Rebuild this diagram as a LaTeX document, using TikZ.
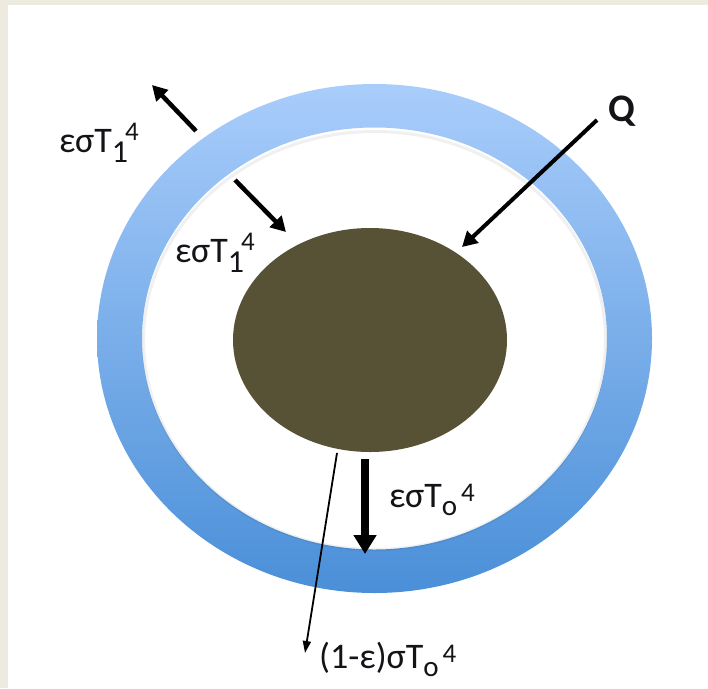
\documentclass[tikz,border=0pt]{standalone}
\usepackage{fontspec}
\setmainfont{Carlito}
\usetikzlibrary{arrows.meta}
\definecolor{beige}{HTML}{EDEAE0}
\definecolor{ringtop}{HTML}{A9CDFB}
\definecolor{ringbot}{HTML}{4A8FD8}
\definecolor{core}{HTML}{575136}
\definecolor{txt}{HTML}{141418}
\newcommand\subo{\raisebox{-8pt}{\fontsize{29}{29}\selectfont o}}
\newcommand\subone{\raisebox{-10pt}{\fontsize{32}{32}\selectfont 1}}
\newcommand\supf[1]{\raisebox{#1}{\fontsize{27}{27}\selectfont 4}}
\begin{document}
\begin{tikzpicture}[x=1pt,y=-1pt,
  lbl/.style={anchor=base west, inner sep=0pt, text=txt, font=\fontsize{36}{36}\selectfont},
  arr/.style={line width=4.5pt, -{Triangle[length=15pt,width=16pt]}},
  thickarr/.style={line width=8pt, -{Triangle[length=19pt,width=22pt]}},
  thinarr/.style={line width=1.8pt, -{Triangle[length=12pt,width=8pt]}}]
\useasboundingbox (0,0) rectangle (708,688);
\fill[beige] (0,0) rectangle (708,688);
\fill[white] (8,5) rectangle (708,688);
% ring
\shade[top color=ringtop, bottom color=ringbot, even odd rule]
  (374.5,338.5) ellipse [x radius=277.5, y radius=254.5]
  (374.5,338.5) ellipse [x radius=232.5, y radius=211];
\draw[black, opacity=0.06, line width=3pt] (374.5,340.5) ellipse [x radius=231, y radius=209];
% core
\fill[core] (370,340) ellipse [x radius=137, y radius=112];
% arrow end points
\coordinate (a1s) at (196,131);
\coordinate (a1e) at (152,85);
\coordinate (a2s) at (235,180);
\coordinate (a2e) at (286,232);
\coordinate (qs) at (597,120);
\coordinate (qe) at (462,247);
\coordinate (ts) at (365,459);
\coordinate (te) at (365,554);
\coordinate (ns) at (337,453);
\coordinate (ne) at (305,653);
\draw[arr] (a1s) -- (a1e);
\draw[arr] (a2s) -- (a2e);
\draw[arr, line width=4pt] (qs) -- (qe);
\draw[thickarr] (ts) -- (te);
\draw[thinarr] (ns) -- (ne);
% labels
\node[lbl] (l1) at (59,152) {εσT\subone\kern-3pt\supf{12pt}};
\node[lbl] (l2) at (175,262) {εσT\subone\kern-3pt\supf{12pt}};
\node[lbl] (l3) at (389,507) {εσT\subo\kern4pt\supf{6pt}};
\node[lbl] (l4) at (319,668) {(1-ε)σT\subo\kern4pt\supf{6pt}};
\node[lbl, font=\fontsize{39}{39}\selectfont\bfseries] (q) at (608,121) {Q};
\end{tikzpicture}
\end{document}
